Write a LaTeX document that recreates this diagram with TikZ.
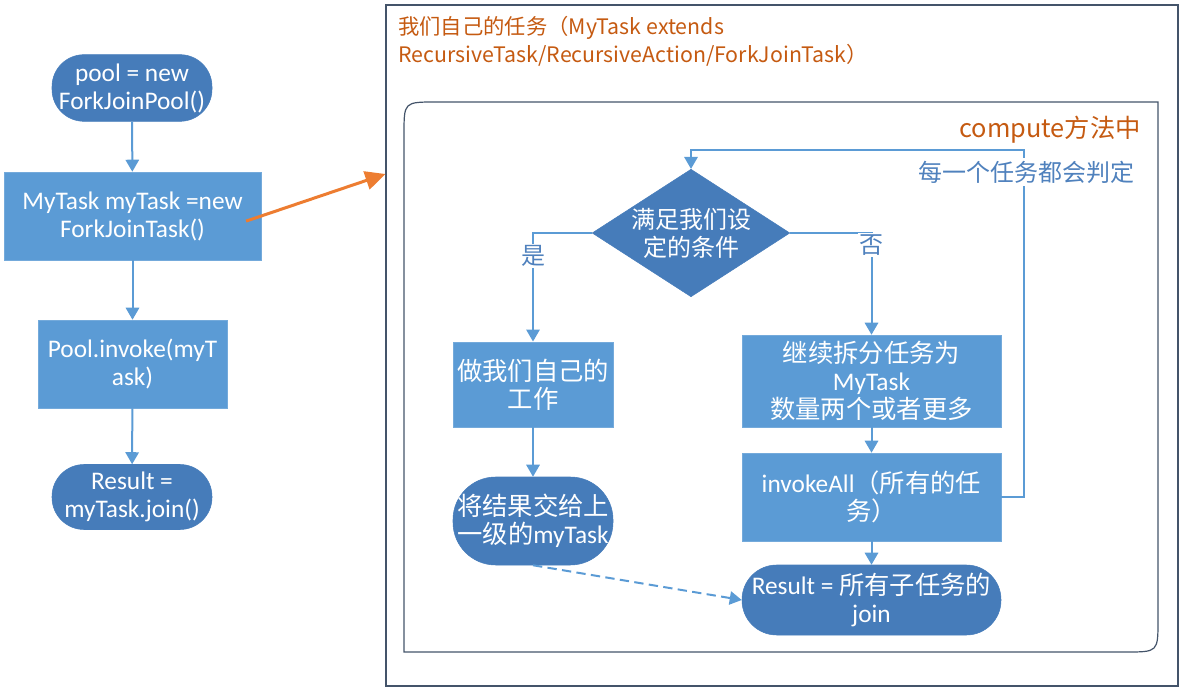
\documentclass[tikz,border=0pt]{standalone}
\usepackage{fontspec}
\setmainfont{Carlito}
\newfontfamily\cjk{Noto Sans CJK SC}
\usetikzlibrary{shapes.geometric,arrows.meta}

\definecolor{boxblue}{RGB}{91,155,213}
\definecolor{termblue}{RGB}{70,124,186}
\definecolor{labelblue}{RGB}{79,129,189}
\definecolor{frameslate}{RGB}{68,84,106}
\definecolor{linkorange}{RGB}{237,125,49}
\definecolor{titleorange}{RGB}{197,90,17}

\newcommand\nodefont{\fontsize{19pt}{21pt}\selectfont}

\tikzset{
  procbox/.style={rectangle, fill=boxblue, draw=boxblue!85!white, text=white, align=center, inner sep=2pt, font=\nodefont},
  termbox/.style={rectangle, rounded corners=#1, fill=termblue, draw=termblue, text=white, align=center, inner sep=2pt, font=\nodefont},
  decision/.style={diamond, aspect=1.55, inner sep=0pt, fill=termblue, draw=termblue, text=white, align=center, font=\cjk\fontsize{18pt}{21pt}\selectfont},
  flow/.style={draw=boxblue, line width=1.5pt, -{Triangle[length=9pt,width=10pt]}},
  branchlabel/.style={fill=white, inner sep=1pt, text=labelblue, font=\cjk\fontsize{18pt}{21pt}\selectfont},
  frame/.style={draw=frameslate, line width=0.9pt},
}

\begin{document}
\begin{tikzpicture}[x=0.75pt,y=0.75pt,yscale=-1,xscale=1]
    \useasboundingbox (0,0) rectangle (1184,691);
    % Containers
    \node[frame, rectangle, minimum width=594pt, minimum height=510.75pt, inner sep=0pt] (tasks) at (782,345.5) {};
    \draw[frame] (404,652) -- (404,134) .. controls (404,102) .. (436,102) -- (1158,102) -- (1158,620) .. controls (1158,652) .. (1126,652) -- cycle;
    % Text Node
    \node[anchor=north west, align=left, inner sep=0pt, text=titleorange, font=\cjk\fontsize{16pt}{21pt}\selectfont] (tasktitle) at (398,16) {我们自己的任务（MyTask extends\\RecursiveTask/RecursiveAction/ForkJoinTask）};
    % Text Node
    \node[anchor=east, inner sep=0pt, text=titleorange, font=\cjk\fontsize{19pt}{22pt}\selectfont] (computetitle) at (1141,130) {compute方法中};

    % Main flow
    \node[termbox=24pt, minimum width=120pt, minimum height=50pt] (pool) at (132,88) {pool = new\\ForkJoinPool()};
    \node[procbox, minimum width=192.75pt, minimum height=66pt] (mytask) at (132.5,216) {MyTask myTask =new\\ForkJoinTask()};
    \node[procbox, minimum width=141.75pt, minimum height=66pt] (invoke) at (132.5,364) {Pool.invoke(myT\\ask)};
    \node[termbox=24pt, minimum width=120pt, minimum height=48.75pt] (result) at (132,497) {Result =\\myTask.join()};

    % Task flow
    \node[decision, minimum width=141pt, minimum height=90.75pt] (check) at (691,233) {满足我们设\\定的条件};
    \node[procbox, minimum width=120pt, minimum height=64pt] (work) at (533,384.5) {{\cjk 做我们自己的}\\{\cjk 工作}};
    \node[termbox=32pt, minimum width=120pt, minimum height=66pt] (handback) at (533,521) {{\cjk 将结果交给上}\\{\cjk 一级的}myTask};
    \node[procbox, minimum width=194.25pt, minimum height=69pt] (split) at (871.5,381) {{\cjk 继续拆分任务为}\\MyTask\\{\cjk 数量两个或者更多}};
    \node[procbox, minimum width=194.25pt, minimum height=66pt] (invall) at (871.5,497) {invokeAll{\cjk （所有的任}\\{\cjk 务）}};
    \node[termbox=26pt, minimum width=194.25pt, minimum height=52.5pt] (joinall) at (871.5,600) {Result = {\cjk 所有子任务的}\\join};
    \coordinate (loopcorner) at (1024,150);

    % Connection
    \draw[flow] (pool) -- (mytask);
    \draw[flow] (mytask) -- (invoke);
    \draw[flow] (invoke) -- (result);
    \draw[draw=linkorange, line width=2.25pt, shorten <=-12pt, -{Triangle[length=15pt,width=14pt]}] (mytask.east) -- (tasks.west |- 0,174);
    \draw[flow] (check.west) -| (work.north);
    \draw[flow] (check.east) -| (split.north);
    \draw[flow] (work) -- (handback);
    \draw[flow] (split) -- (invall);
    \draw[flow] (invall) -- (joinall);
    \draw[flow, dash pattern=on 7pt off 4pt] (handback.south) -- (joinall.west);
    \draw[flow] (invall.east) -| (loopcorner) -| (check.north);

    % Labels
    \node[branchlabel] (yes) at (533,256) {是};
    \node[branchlabel] (no) at (871,245) {否};
    \node[branchlabel, anchor=east, inner sep=2pt] (eachtask) at (1137,172) {每一个任务都会判定};
\end{tikzpicture}
\end{document}
